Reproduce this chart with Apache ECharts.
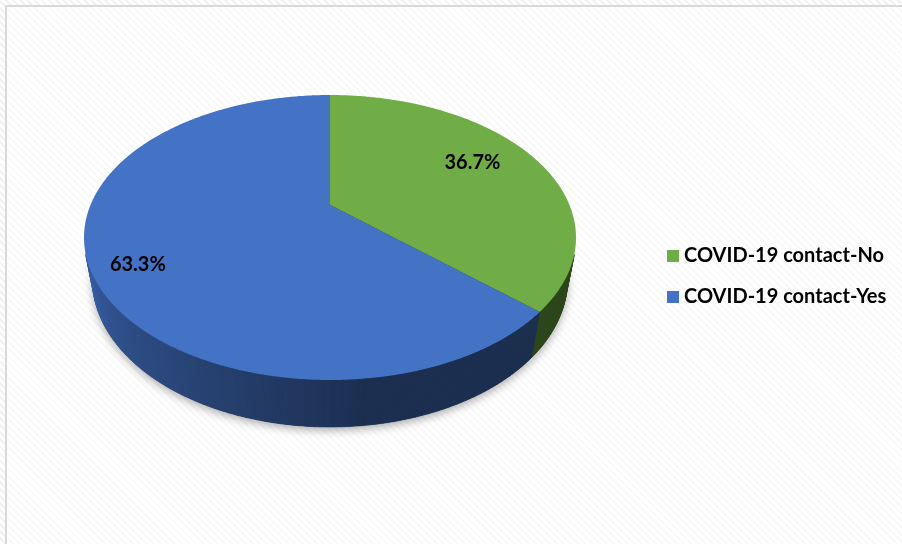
<!DOCTYPE html>
<html>
<head>
<meta charset="utf-8">
<script src="https://cdn.jsdelivr.net/npm/echarts@6/dist/echarts.min.js"></script>
<style>
  html, body { margin: 0; padding: 0; background: #ffffff; }
  #frame {
    position: absolute; left: 0; top: 0; width: 902px; height: 544px;
    background: repeating-linear-gradient(45deg, #ffffff 0px, #ffffff 3px, #f2f2f2 3px, #f2f2f2 5px);
  }
  #chart {
    position: absolute; left: 0; top: 0; width: 902px; height: 544px;
  }
  #edge {
    position: absolute; left: 5px; top: 5px; width: 897px; height: 539px;
    border-left: 2px solid #d9d9d9; border-top: 2px solid #d9d9d9;
    background: rgba(255,255,255,0.5);
  }
</style>
</head>
<body>
<div id="frame"></div>
<div id="edge"></div>
<div id="chart"></div>
<script>
// Categories and their shares (percent)
const categories = ['COVID-19 contact-No', 'COVID-19 contact-Yes'];
const values = [36.7, 63.3];
const colors = ['#70ad47', '#4472c4'];

// Perspective pie geometry (screen pixels and view parameters)
const view = {
  cx: 330, cy: 205,      // projected centre of the top face
  scale: 239.5,          // projected radius scale
  sinT: 0.564, cosT: 0.826, // tilt of the pie plane
  dist: 3.62,            // camera distance in radius units
  thick: 0.222           // pie thickness in radius units
};
const labelRadius = [0.73, 0.83];
const labelShift = -4.5 * Math.PI / 180;
const fontStack = 'Lato, "Open Sans", sans-serif';

function project(phi, r, y) {
  const X = r * Math.sin(phi);
  const Z = -r * Math.cos(phi);
  const depth = 1 - (Z * view.cosT + y * view.sinT) / view.dist;
  return [
    view.cx + view.scale * X / depth,
    view.cy + view.scale * (Z * view.sinT - y * view.cosT) / depth
  ];
}

function shade(hex, f) {
  const n = parseInt(hex.slice(1), 16);
  const r = Math.round(((n >> 16) & 255) * f);
  const g = Math.round(((n >> 8) & 255) * f);
  const b = Math.round((n & 255) * f);
  return 'rgb(' + r + ',' + g + ',' + b + ')';
}

// Side-wall brightness: lit from the left, darker towards the front-right
function wallFactor(phi) {
  const d = phi * 180 / Math.PI % 360;
  if (d >= 174 && d <= 360) {
    return Math.min(0.88, 0.42 + (d - 174) / (257 - 174) * 0.44);
  }
  return 0.41;
}

const total = values.reduce((a, b) => a + b, 0);

function renderSlice(params, api) {
  const i = params.seriesIndex;
  let before = 0;
  for (let k = 0; k < i; k++) before += values[k];
  const v = api.value(0);
  const a0 = before / total * Math.PI * 2;
  const a1 = (before + v) / total * Math.PI * 2;
  const steps = Math.max(8, Math.ceil((a1 - a0) / (Math.PI / 360)));
  const H = -view.thick;
  const children = [];

  // Bottom face (casts the soft shadow)
  const bottom = [project(0, 0, H)];
  for (let s = 0; s <= steps; s++) bottom.push(project(a0 + (a1 - a0) * s / steps, 1, H));
  children.push({
    type: 'polygon', z2: -5,
    shape: { points: bottom },
    style: { fill: shade(colors[i], 0.4), shadowBlur: 10, shadowOffsetY: 3, shadowColor: 'rgba(0,0,0,0.35)' }
  });

  // Outer wall, only the parts facing the viewer
  for (let s = 0; s < steps; s++) {
    const p0 = a0 + (a1 - a0) * s / steps;
    const p1 = a0 + (a1 - a0) * (s + 1) / steps;
    const A = project(p0, 1, 0), B = project(p1, 1, 0);
    const C = project(p1, 1, H), D = project(p0, 1, H);
    const q = [A, B, C, D];
    let area = 0;
    for (let k = 0; k < 4; k++) {
      const m = q[k], n = q[(k + 1) % 4];
      area += m[0] * n[1] - n[0] * m[1];
    }
    if (area >= 0) continue;
    const col = shade(colors[i], wallFactor((p0 + p1) / 2));
    children.push({
      type: 'polygon', z2: 0,
      shape: { points: q },
      style: { fill: col, stroke: col, lineWidth: 0.6 }
    });
  }

  // Top face
  const top = [project(0, 0, 0)];
  for (let s = 0; s <= steps; s++) top.push(project(a0 + (a1 - a0) * s / steps, 1, 0));
  children.push({
    type: 'polygon', z2: 10,
    shape: { points: top },
    style: { fill: colors[i] }
  });

  // Percentage label
  const lp = project((a0 + a1) / 2 + labelShift, labelRadius[i], 0);
  children.push({
    type: 'text', z2: 20,
    x: lp[0], y: lp[1] + 1,
    style: {
      text: v.toFixed(1) + '%',
      fill: '#000000',
      font: 'bold 20px ' + fontStack,
      align: 'center', verticalAlign: 'middle'
    }
  });

  return { type: 'group', children: children };
}

const chart = echarts.init(document.getElementById('chart'), null, { renderer: 'canvas' });
chart.setOption({
  backgroundColor: 'transparent',
  animation: false,
  legend: {
    orient: 'vertical',
    left: 662, top: 241,
    itemWidth: 12, itemHeight: 12, itemGap: 21,
    icon: 'rect',
    data: categories,
    textStyle: { fontFamily: fontStack, fontWeight: 'bold', fontSize: 20, color: '#000000' }
  },
  series: categories.map((name, i) => ({
    type: 'custom',
    name: name,
    coordinateSystem: 'none',
    itemStyle: { color: colors[i] },
    data: [[values[i]]],
    renderItem: renderSlice
  }))
});
</script>
</body>
</html>
